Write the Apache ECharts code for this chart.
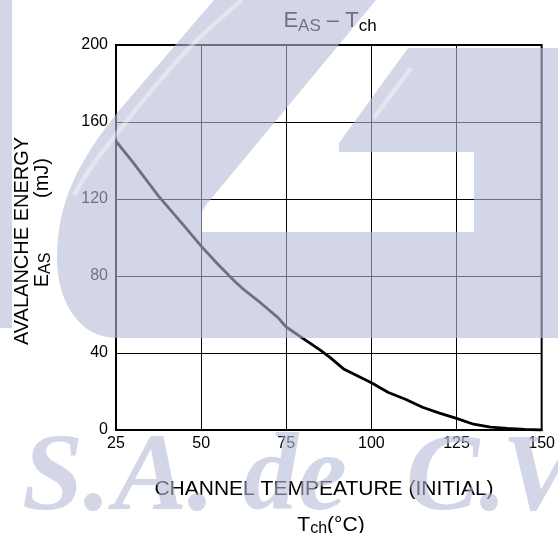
<!DOCTYPE html>
<html>
<head>
<meta charset="utf-8">
<script src="https://cdn.jsdelivr.net/npm/echarts@6/dist/echarts.min.js"></script>
<style>
html,body{margin:0;padding:0;background:#fff;}
#c{width:558px;height:533px;}
</style>
</head>
<body>
<div id="c"></div>
<script>
// Data
var temperatures = [25, 30, 37.5, 45, 50, 55, 60, 62.5, 67.5, 72.5, 75, 80, 85, 88, 92, 96, 100, 105, 110, 115, 120, 125, 130, 135, 140, 145, 150];
var energies     = [150, 139, 121.5, 106, 95.5, 86, 77, 73, 66, 58.5, 53.5, 47.5, 41.5, 37.5, 31.5, 28, 24.5, 19.5, 16, 11.8, 8.8, 6, 3, 1.5, 0.8, 0.3, 0];
var xTicks = [25, 50, 75, 100, 125, 150];
var yTicks = [0, 40, 80, 120, 160, 200];

var points = temperatures.map(function (t, i) { return [t, energies[i]]; });

var FONT = '"Liberation Sans", Arial, sans-serif';
var OVERLAY = 'rgba(180,187,213,0.6)';
var WM_FONT = 'italic bold 110px "Liberation Serif", serif';

// watermark outline (decorative background logo, pixel space)
function bez(p0, p1, p2, p3, n) {
  var out = [];
  for (var i = 1; i <= n; i++) {
    var t = i / n, u = 1 - t;
    out.push([u*u*u*p0[0] + 3*u*u*t*p1[0] + 3*u*t*t*p2[0] + t*t*t*p3[0],
              u*u*u*p0[1] + 3*u*u*t*p1[1] + 3*u*t*t*p2[1] + t*t*t*p3[1]]);
  }
  return out;
}
var logo = [[214,0],[376,0],[279,117],[206,205],[202,212],[202,232],[474,232],[474,152],[339,152],[339,143],[408,48],[558,48],[558,338],[117,338]];
logo = logo.concat(bez([117,338],[78,338],[57,300],[57,258],16));
logo = logo.concat(bez([57,258],[57,200],[80,160],[117,113],16));

function wmText(str, x) {
  return {type: 'text', x: x, y: 481, z: 100, silent: true, style: {
    text: str, align: 'left', verticalAlign: 'middle', font: WM_FONT, fill: OVERLAY
  }};
}

var chart = echarts.init(document.getElementById('c'), null, {renderer: 'canvas'});
chart.setOption({
  animation: false,
  backgroundColor: '#fff',
  grid: {left: 116, right: 14, top: 45, bottom: 103, show: true, borderColor: '#000', borderWidth: 2, backgroundColor: 'transparent'},
  xAxis: {
    type: 'value', min: xTicks[0], max: xTicks[xTicks.length - 1], interval: 25,
    axisLine: {show: true, lineStyle: {color: '#000', width: 2}},
    axisTick: {show: false},
    splitLine: {show: true, lineStyle: {color: '#000', width: 1}},
    axisLabel: {color: '#000', fontSize: 16, fontFamily: FONT, margin: 6}
  },
  yAxis: {
    type: 'value', min: yTicks[0], max: yTicks[yTicks.length - 1], interval: 40,
    axisLine: {show: true, lineStyle: {color: '#000', width: 2}},
    axisTick: {show: false},
    splitLine: {show: true, lineStyle: {color: '#000', width: 1}},
    axisLabel: {color: '#000', fontSize: 16, fontFamily: FONT, margin: 8}
  },
  series: [{
    type: 'line', data: points, symbol: 'none', smooth: false,
    lineStyle: {color: '#000', width: 2.8}, z: 3
  }],
  graphic: [
    {type: 'text', x: 330, y: 7, z: 50, style: {
      text: '{a|E}{b|AS}{a| – T}{b|ch}', align: 'center', verticalAlign: 'top',
      rich: {a: {fontSize: 22, lineHeight: 28, fontFamily: FONT, fill: '#000'},
             b: {fontSize: 17, lineHeight: 18, verticalAlign: 'bottom', fontFamily: FONT, fill: '#000'}}
    }},
    {type: 'text', x: 22, y: 241, rotation: Math.PI / 2, z: 50, style: {
      text: 'AVALANCHE ENERGY', align: 'center', verticalAlign: 'middle', font: '20px ' + FONT, fill: '#000'
    }},
    {type: 'text', x: 42, y: 270, rotation: Math.PI / 2, z: 50, style: {
      text: '{a|E}{b|AS}', align: 'center', verticalAlign: 'middle',
      rich: {a: {fontSize: 20, lineHeight: 24, fontFamily: FONT, fill: '#000'},
             b: {fontSize: 16, lineHeight: 16, verticalAlign: 'bottom', fontFamily: FONT, fill: '#000'}}
    }},
    {type: 'text', x: 42, y: 178, rotation: Math.PI / 2, z: 50, style: {
      text: '(mJ)', align: 'center', verticalAlign: 'middle', font: '20px ' + FONT, fill: '#000'
    }},
    {type: 'text', x: 324, y: 489, z: 50, style: {
      text: 'CHANNEL TEMPEATURE (INITIAL)', align: 'center', verticalAlign: 'middle', font: '21px ' + FONT, fill: '#000'
    }},
    {type: 'text', x: 331, y: 513, z: 50, style: {
      text: '{a|T}{b|ch}{a|(°C)}', align: 'center', verticalAlign: 'top',
      rich: {a: {fontSize: 21, lineHeight: 24, fontFamily: FONT, fill: '#000'},
             b: {fontSize: 16, lineHeight: 16, verticalAlign: 'bottom', fontFamily: FONT, fill: '#000'}}
    }},
    {type: 'polygon', z: 100, silent: true, shape: {points: logo}, style: {fill: OVERLAY, stroke: null}},
    {type: 'rect', z: 100, silent: true, shape: {x: 0, y: 0, width: 12, height: 328}, style: {fill: OVERLAY, stroke: null}},
    {type: 'polyline', z: 101, silent: true, shape: {points: [[242,0],[192,45],[152,90],[118,132],[92,166],[74,195]], smooth: 0.4},
      style: {stroke: 'rgba(255,255,255,0.35)', lineWidth: 4, fill: null, shadowBlur: 4, shadowColor: 'rgba(255,255,255,0.5)'}},
    {type: 'polyline', z: 101, silent: true, shape: {points: [[411,68],[374,118]]},
      style: {stroke: 'rgba(255,255,255,0.35)', lineWidth: 4, fill: null, shadowBlur: 4, shadowColor: 'rgba(255,255,255,0.5)'}},
    wmText('S.', 22),
    wmText('A.', 114),
    wmText('de', 243),
    wmText('C.', 406),
    wmText('V', 502)
  ]
});
</script>
</body>
</html>
